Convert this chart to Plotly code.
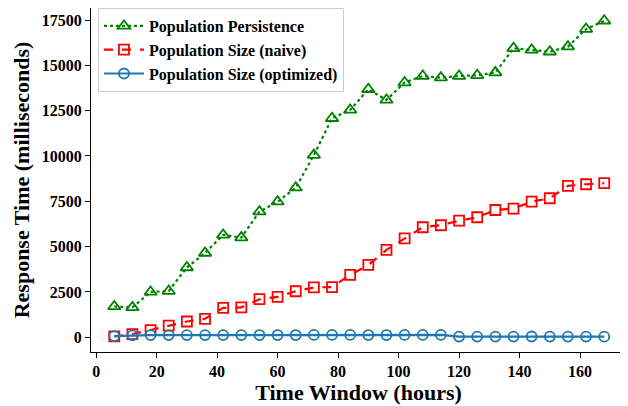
import plotly.graph_objects as go

hours = [6, 12, 18, 24, 30, 36, 42, 48, 54, 60, 66, 72, 78, 84, 90, 96, 102, 108,
         114, 120, 126, 132, 138, 144, 150, 156, 162, 168]

persistence = [1700, 1650, 2500, 2550, 3850, 4650, 5650, 5500, 6930, 7480, 8250, 10050,
               12080, 12540, 13680, 13090, 14050, 14410, 14320, 14410, 14450, 14600,
               15940, 15850, 15750, 16030, 17000, 17460]

size_naive = [50, 180, 400, 640, 870, 1020, 1620, 1650, 2100, 2230, 2540, 2750, 2770,
              3440, 3990, 4820, 5460, 6070, 6180, 6430, 6620, 7020, 7100, 7480, 7670,
              8350, 8440, 8500]

size_opt = [70, 110, 120, 120, 120, 120, 120, 120, 125, 125, 125, 130, 130, 130, 125,
            125, 130, 130, 130, 40, 40, 40, 40, 45, 40, 40, 40, 35]

x_ticks = [0, 20, 40, 60, 80, 100, 120, 140, 160]
y_ticks = [0, 2500, 5000, 7500, 10000, 12500, 15000, 17500]

FONT = "Liberation Serif"

fig = go.Figure()
fig.add_trace(go.Scatter(
    x=hours, y=persistence, name="<b>Population Persistence</b>", mode="lines+markers",
    line=dict(color="#008000", width=2.2, dash="dot"),
    marker=dict(symbol="triangle-up-open", size=11, color="#008000", line=dict(width=1.8)),
))
fig.add_trace(go.Scatter(
    x=hours, y=size_naive, name="<b>Population Size (naive)</b>", mode="lines+markers",
    line=dict(color="#ff0000", width=2.2, dash="dash"),
    marker=dict(symbol="square-open", size=10, color="#ff0000", line=dict(width=1.8)),
))
fig.add_trace(go.Scatter(
    x=hours, y=size_opt, name="<b>Population Size (optimized)</b>", mode="lines+markers",
    line=dict(color="#1f77b4", width=2.2),
    marker=dict(symbol="circle-open", size=10, color="#1f77b4", line=dict(width=1.8)),
))

axis_common = dict(
    showline=True, linecolor="black", linewidth=1.2, mirror=True,
    ticks="outside", ticklen=5, tickwidth=1.2, tickcolor="black",
    showgrid=False, zeroline=False, automargin=False,
    tickfont=dict(family=FONT, size=16, color="black"),
)

fig.update_layout(
    width=620, height=398,
    margin=dict(l=83, r=2, t=0, b=54),
    paper_bgcolor="white", plot_bgcolor="white",
    font=dict(family=FONT, color="black"),
    xaxis=dict(
        range=[-1.7, 175.2], tickvals=x_ticks,
        ticktext=[f"<b>{v}</b>" for v in x_ticks],
        title=dict(text="<b>Time Window (hours)</b>", font=dict(family=FONT, size=22, color="black"), standoff=2),
        **axis_common,
    ),
    yaxis=dict(
        range=[-811, 18162], tickvals=y_ticks,
        ticktext=[f"<b>{v}</b>" for v in y_ticks],
        title=dict(text="<b>Response Time (milliseconds)</b>", font=dict(family=FONT, size=22, color="black"), standoff=6),
        **axis_common,
    ),
    legend=dict(
        x=0.013, y=1.0, xanchor="left", yanchor="top",
        bgcolor="rgba(255,255,255,0.85)", bordercolor="#cccccc", borderwidth=1,
        font=dict(family=FONT, size=16, color="black"),
        itemwidth=40, tracegroupgap=0,
    ),
    showlegend=True,
)

fig.write_html("out.html")
